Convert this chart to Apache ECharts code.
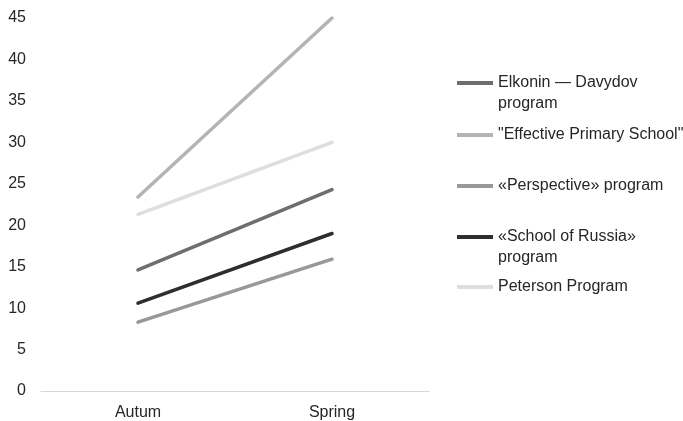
<!DOCTYPE html>
<html>
<head>
<meta charset="utf-8">
<script src="https://cdn.jsdelivr.net/npm/echarts@6/dist/echarts.min.js"></script>
<style>
  html, body { margin: 0; padding: 0; background: #fff; }
  #chart { width: 683px; height: 421px; }
</style>
</head>
<body>
<div id="chart"></div>
<script>
// Survey periods
const categories = ['Autum', 'Spring'];

// Scores per program
const elkoninDavydov = [14.6, 24.3];
const effectivePrimary = [23.4, 45];
const perspective = [8.3, 15.9];
const schoolOfRussia = [10.6, 19.0];
const peterson = [21.3, 30];

// Series names (legend text)
const seriesNames = [
  'Elkonin — Davydov program',
  '"Effective Primary School"',
  '«Perspective» program',
  '«School of Russia» program',
  'Peterson Program'
];
const seriesValues = [elkoninDavydov, effectivePrimary, perspective, schoolOfRussia, peterson];
const seriesColors = ['#6e6e6e', '#b4b4b4', '#989898', '#2e2e2e', '#dedede'];

// Legend labels, with line breaks as drawn
const legendLabels = {
  'Elkonin — Davydov program': ' \nElkonin — Davydov\nprogram',
  '"Effective Primary School"': '"Effective Primary School"',
  '«Perspective» program': '«Perspective» program',
  '«School of Russia» program': ' \n«School of Russia»\nprogram',
  'Peterson Program': 'Peterson Program'
};
const legendTops = [51.5, 124.5, 175.5, 205.5, 276.5];

const FONT = '"Liberation Sans", Arial, sans-serif';

const chart = echarts.init(document.getElementById('chart'), null, { renderer: 'canvas' });

const legends = seriesNames.map((name, i) => ({
  data: [name],
  orient: 'vertical',
  left: 457,
  top: legendTops[i],
  padding: 0,
  icon: 'rect',
  itemWidth: 36,
  itemHeight: 4,
  selectedMode: false,
  formatter: (n) => legendLabels[n],
  textStyle: {
    fontFamily: FONT,
    fontSize: 16,
    lineHeight: 21,
    color: '#262626'
  }
}));

chart.setOption({
  animation: false,
  backgroundColor: '#ffffff',
  legend: legends,
  grid: { left: 41, right: 254, top: 18, bottom: 30, containLabel: false },
  xAxis: {
    type: 'category',
    data: categories,
    boundaryGap: true,
    axisLine: { show: true, lineStyle: { color: '#d9d9d9', width: 1 } },
    axisTick: { show: false },
    axisLabel: { fontFamily: FONT, fontSize: 16, color: '#262626', margin: 14 },
    splitLine: { show: false }
  },
  yAxis: {
    type: 'value',
    min: 0,
    max: 45,
    interval: 5,
    axisLine: { show: false },
    axisTick: { show: false },
    axisLabel: { fontFamily: FONT, fontSize: 16, color: '#262626', margin: 15 },
    splitLine: { show: false }
  },
  series: seriesNames.map((name, i) => ({
    name: name,
    type: 'line',
    data: seriesValues[i],
    symbol: 'none',
    color: seriesColors[i],
    lineStyle: { color: seriesColors[i], width: 3.5, cap: 'round' }
  }))
});
</script>
</body>
</html>
